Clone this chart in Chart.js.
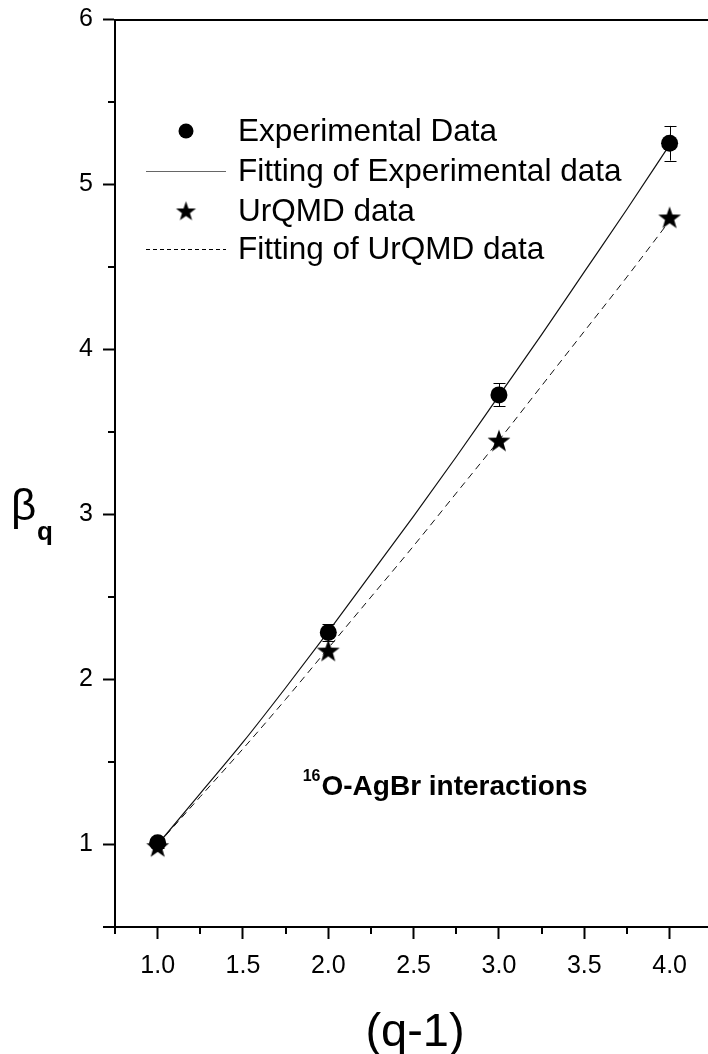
<!DOCTYPE html>
<html>
<head>
<meta charset="utf-8">
<script src="https://cdn.jsdelivr.net/npm/chart.js@4.4.0/dist/chart.umd.min.js"></script>
<style>
  html, body { margin: 0; padding: 0; background: #fff; overflow: hidden; }
  canvas { display: block; }
</style>
</head>
<body>
<canvas id="betaChart" width="708" height="1054"></canvas>
<script>
// measured points
const qMinus1 = [1, 2, 3, 4];
const betaExp = [1.01, 2.285, 3.725, 5.25];
const betaExpErr = [0.03, 0.05, 0.07, 0.105];
const betaUrqmd = [0.99, 2.175, 3.448, 4.80];

// fitted curves
const fitQ = [1.0, 1.25, 1.5, 1.75, 2.0, 2.25, 2.5, 2.75, 3.0, 3.25, 3.5, 3.75, 4.0];
const fitExp = [1.00, 1.31, 1.62, 1.95, 2.29, 2.64, 2.99, 3.35, 3.72, 4.09, 4.47, 4.85, 5.24];
const fitUrqmd = [1.00, 1.29, 1.58, 1.88, 2.19, 2.50, 2.81, 3.13, 3.45, 3.78, 4.11, 4.44, 4.78];

// axes
const xTicks = [1.0, 1.5, 2.0, 2.5, 3.0, 3.5, 4.0];
const xMinorTicks = [0.75, 1.25, 1.75, 2.25, 2.75, 3.25, 3.75];
const yTicks = [1, 2, 3, 4, 5, 6];
const yMinorTicks = [1.5, 2.5, 3.5, 4.5, 5.5];

const seriesLabels = ['Experimental Data', 'Fitting of Experimental data', 'UrQMD data', 'Fitting of UrQMD data'];

const FONT = '"Liberation Sans", Arial, Helvetica, sans-serif';

function makeStar(outer) {
    const size = Math.ceil(outer * 2 + 2);
    const c = document.createElement('canvas');
    c.width = size;
    c.height = size;
    const g = c.getContext('2d');
    const cx = size / 2, cy = size / 2 + outer * 0.08, inner = outer * 0.4;
    g.beginPath();
    for (let i = 0; i < 10; i++) {
        const r = i % 2 ? inner : outer;
        const a = -Math.PI / 2 + i * Math.PI / 5;
        g.lineTo(cx + r * Math.cos(a), cy + r * Math.sin(a));
    }
    g.closePath();
    g.fillStyle = '#000';
    g.fill();
    return c;
}

const starBig = makeStar(12);
const starSmall = makeStar(10.5);

const pairs = (xs, ys) => xs.map((x, i) => ({ x: x, y: ys[i] }));

// error bars, minor ticks, top axis, legend and text labels
const decorations = {
    id: 'decorations',
    afterDatasetsDraw(chart) {
        const ctx = chart.ctx;
        const xs = chart.scales.x, ys = chart.scales.y;
        ctx.save();
        ctx.strokeStyle = '#000';
        ctx.lineWidth = 1;
        qMinus1.forEach((q, i) => {
            const px = Math.round(xs.getPixelForValue(q)) + 0.5;
            const top = ys.getPixelForValue(betaExp[i] + betaExpErr[i]);
            const bot = ys.getPixelForValue(betaExp[i] - betaExpErr[i]);
            ctx.beginPath();
            ctx.moveTo(px, top); ctx.lineTo(px, bot);
            ctx.moveTo(px - 6, Math.round(top) + 0.5); ctx.lineTo(px + 6, Math.round(top) + 0.5);
            ctx.moveTo(px - 6, Math.round(bot) + 0.5); ctx.lineTo(px + 6, Math.round(bot) + 0.5);
            ctx.stroke();
        });
        ctx.restore();
    },
    afterDraw(chart) {
        const ctx = chart.ctx;
        const area = chart.chartArea;
        const xs = chart.scales.x, ys = chart.scales.y;
        ctx.save();
        ctx.strokeStyle = '#000';
        ctx.lineWidth = 2;

        // top frame line and bottom-left corner
        ctx.beginPath();
        ctx.moveTo(area.left, Math.round(area.top));
        ctx.lineTo(area.right, Math.round(area.top));
        ctx.moveTo(area.left - 12, Math.round(area.bottom));
        ctx.lineTo(area.left, Math.round(area.bottom));
        ctx.stroke();

        // minor ticks
        ctx.beginPath();
        xMinorTicks.forEach(v => {
            const px = Math.round(xs.getPixelForValue(v));
            ctx.moveTo(px, area.bottom);
            ctx.lineTo(px, area.bottom + 7);
        });
        yMinorTicks.forEach(v => {
            const py = Math.round(ys.getPixelForValue(v));
            ctx.moveTo(area.left, py);
            ctx.lineTo(area.left - 7, py);
        });
        ctx.stroke();

        // legend
        const ds = chart.data.datasets;
        const symX = area.left + 71;
        const textX = area.left + 123;
        const rows = [131, 171, 211, 249];
        ctx.font = '31.5px ' + FONT;
        ctx.fillStyle = '#000';
        ctx.textAlign = 'left';
        ctx.textBaseline = 'middle';
        ds.forEach((d, i) => {
            const y = rows[i];
            if (d.showLine === false) {
                if (d.pointStyle === 'circle') {
                    ctx.beginPath();
                    ctx.arc(symX, y, 7.5, 0, Math.PI * 2);
                    ctx.fill();
                } else {
                    ctx.drawImage(starSmall, symX - starSmall.width / 2, y - starSmall.height / 2);
                }
            } else {
                ctx.save();
                ctx.lineWidth = 1;
                ctx.strokeStyle = d.borderDash ? '#000' : '#666';
                ctx.setLineDash(d.borderDash ? [4, 3] : []);
                ctx.beginPath();
                ctx.moveTo(symX - 40, y + 0.5);
                ctx.lineTo(symX + 40, y + 0.5);
                ctx.stroke();
                ctx.restore();
            }
            ctx.fillText(d.label, textX, y + 1);
        });

        // annotation
        ctx.textBaseline = 'alphabetic';
        const ax = xs.getPixelForValue(1.85);
        const ay = ys.getPixelForValue(1.30);
        ctx.font = 'bold 16px ' + FONT;
        ctx.fillText('16', ax, ay - 14);
        const supW = ctx.measureText('16').width;
        ctx.font = 'bold 28px ' + FONT;
        ctx.fillText('O-AgBr interactions', ax + supW + 1, ay);

        // axis titles
        ctx.font = '47px ' + FONT;
        ctx.textAlign = 'center';
        ctx.fillText('(q-1)', 415, 1046);
        ctx.textAlign = 'left';
        ctx.font = '44px ' + FONT;
        ctx.fillText('\u03B2', 11, 520);
        ctx.font = 'bold 26px ' + FONT;
        ctx.fillText('q', 37, 540);
        ctx.restore();
    }
};

const ctx = document.getElementById('betaChart').getContext('2d');
new Chart(ctx, {
    type: 'scatter',
    data: {
        datasets: [
            {
                label: seriesLabels[0],
                data: pairs(qMinus1, betaExp),
                showLine: false,
                pointStyle: 'circle',
                pointRadius: 8.5,
                pointBackgroundColor: '#000',
                pointBorderWidth: 0,
                order: 0
            },
            {
                label: seriesLabels[1],
                data: pairs(fitQ, fitExp),
                showLine: true,
                borderColor: '#111',
                borderWidth: 1.2,
                pointRadius: 0,
                cubicInterpolationMode: 'monotone',
                order: 2
            },
            {
                label: seriesLabels[2],
                data: pairs(qMinus1, betaUrqmd),
                showLine: false,
                pointStyle: starBig,
                pointRadius: 12,
                order: 1
            },
            {
                label: seriesLabels[3],
                data: pairs(fitQ, fitUrqmd),
                showLine: true,
                borderColor: '#111',
                borderWidth: 1,
                borderDash: [7, 5],
                pointRadius: 0,
                cubicInterpolationMode: 'monotone',
                order: 3
            }
        ]
    },
    options: {
        responsive: false,
        animation: false,
        devicePixelRatio: 1,
        layout: { autoPadding: false, padding: { top: 19.5, left: 0, right: 0, bottom: 0 } },
        plugins: {
            legend: { display: false },
            tooltip: { enabled: false }
        },
        scales: {
            x: {
                type: 'linear',
                min: 0.75,
                max: 4.225,
                afterBuildTicks: s => { s.ticks = xTicks.map(v => ({ value: v })); },
                afterFit: s => { s.height = 127; s.paddingLeft = 0; s.paddingRight = 0; },
                grid: { drawOnChartArea: false, drawTicks: true, tickLength: 12, tickWidth: 2, tickColor: '#000' },
                border: { display: true, color: '#000', width: 2 },
                ticks: {
                    color: '#000',
                    font: { family: FONT, size: 25 },
                    padding: 12,
                    maxRotation: 0,
                    autoSkip: false,
                    callback: v => v.toFixed(1)
                }
            },
            y: {
                type: 'linear',
                min: 0.5,
                max: 6,
                afterBuildTicks: s => { s.ticks = yTicks.map(v => ({ value: v })); },
                afterFit: s => { s.width = 115; s.paddingTop = 0; s.paddingBottom = 0; },
                grid: { drawOnChartArea: false, drawTicks: true, tickLength: 12, tickWidth: 2, tickColor: '#000' },
                border: { display: true, color: '#000', width: 2 },
                ticks: {
                    color: '#000',
                    font: { family: FONT, size: 25 },
                    padding: 10,
                    autoSkip: false,
                    callback: v => String(v)
                }
            }
        }
    },
    plugins: [decorations]
});
</script>
</body>
</html>
